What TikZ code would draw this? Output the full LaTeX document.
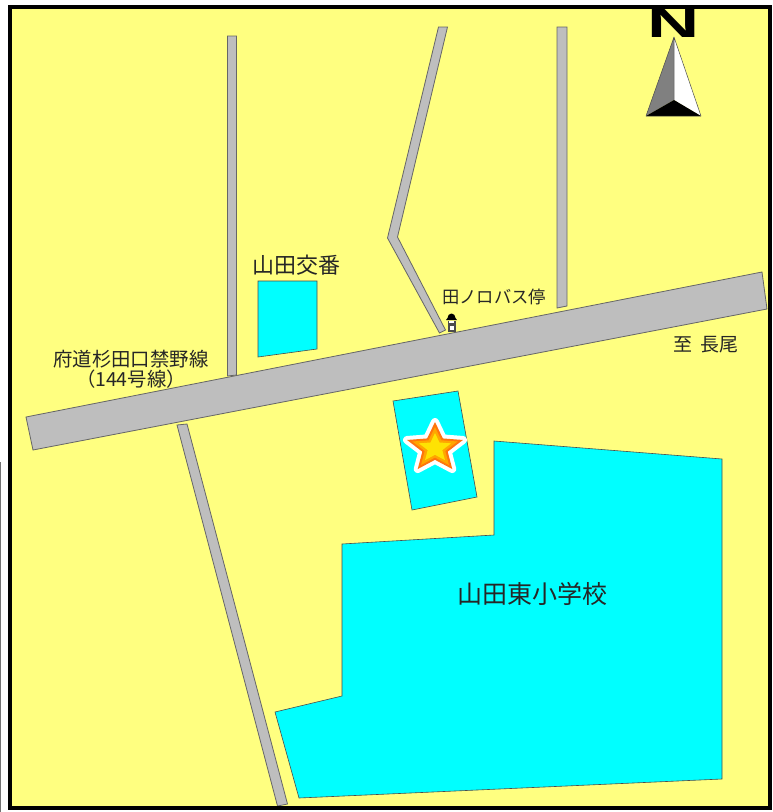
\documentclass[tikz,border=0pt]{standalone}
\usepackage{fontspec}
\setmainfont{Noto Sans CJK JP}
\newfontfamily\nfont{Liberation Sans}
\usetikzlibrary{shapes.geometric}
\definecolor{landc}{HTML}{FFFF80}
\definecolor{blockc}{HTML}{00FFFF}
\definecolor{roadc}{HTML}{BEBEBE}
\tikzset{
  road/.style={fill=roadc,draw=black!60,line width=.8pt,line join=miter},
  block/.style={fill=blockc,draw=black!70,line width=.6pt},
  lab/.style={inner sep=0pt,text=black!85,align=center},
  starnode/.style={star,star points=5,star point ratio=2.2,inner sep=0pt,draw=none,line join=round,xscale=1.13}
}
\begin{document}
\begin{tikzpicture}[x=1pt,y=-1pt]
\useasboundingbox (0,0) rectangle (773,812);
\fill[white] (0,0) rectangle (773,812);
\fill[black!55] (0,462) rectangle (1.2,812);
% land
\fill[landc] (10,7) rectangle (770,808);
% north letter
\node[inner sep=0pt,anchor=base,xscale=1.72] (north) at (673.5,37) {\nfont\fontsize{42}{42}\selectfont\bfseries N};
% roads
\draw[road] (227.5,36) -- (236.5,36) -- (236.5,375) -- (227.5,376) -- cycle;
\draw[road] (438.5,27) -- (447.5,27) -- (397.5,237) -- (445.5,330) -- (439.5,333) -- (387.5,238) -- cycle;
\draw[road] (557,27) -- (567,27) -- (567,306) -- (557,308) -- cycle;
\draw[road] (177,425) -- (187,424) -- (287.5,804) -- (277.5,806) -- cycle;
\draw[road] (26,417) -- (762,272) -- (767,309) -- (33,450) -- cycle;
% blocks
\draw[block] (258,281) -- (317,281) -- (317,349) -- (258,357) -- cycle;
\draw[block] (393,401) -- (458,391) -- (477,497) -- (412,510) -- cycle;
\draw[block] (494,441) -- (722,459) -- (722,779) -- (299,798) -- (275,712) -- (342,696) -- (342,544) -- (494,535) -- cycle;
% star
\node[starnode,minimum size=52pt,fill=white,draw=white,line width=8pt] (starA) at (435,448) {};
\node[starnode,minimum size=52pt,fill=orange!85!red!95!white] (starB) at (435,448) {};
\node[starnode,minimum size=42pt,fill=orange!70!yellow] (starC) at (435,448) {};
\node[starnode,minimum size=30pt,fill=yellow!85!orange] (starD) at (435,448) {};
% bus stop
\fill[black!70] (447.5,321) rectangle (455.5,332);
\fill[white] (449,320.5) rectangle (454,323);
\fill[white] (449.5,325.5) rectangle (453.5,330);
\fill[black] (446,320) -- (457,320) -- (455.5,318) arc[start angle=0,end angle=-180,x radius=4,y radius=4.5] -- (447.5,318) -- cycle;
% compass
\fill[black!50] (674,37) -- (674,100) -- (646,116) -- cycle;
\fill[white] (674,37) -- (674,100) -- (701,116) -- cycle;
\fill[black] (646,116) -- (674,100) -- (701,116) -- cycle;
\draw[black!70,line width=.5pt,line join=round] (674,37) -- (646,116) -- (701,116) -- cycle (674,37) -- (674,100);
% labels
\node[lab,font=\fontsize{22}{22}\selectfont] (koban) at (296,265) {山田交番};
\node[lab,font=\fontsize{25}{25}\selectfont] (school) at (532.5,594) {山田東小学校};
\node[lab,font=\fontsize{19.4}{20}\selectfont] (route) at (131,369) {府道杉田口禁野線\\（144号線）};
\node[lab,font=\fontsize{17.3}{17.3}\selectfont] (bus) at (494,297) {田ノロバス停};
\node[lab,font=\fontsize{19}{19}\selectfont] (naga) at (706,345) {至\ \ 長尾};
% frame
\draw[black,line width=4pt] (10,7) rectangle (770,808);
\end{tikzpicture}
\end{document}
